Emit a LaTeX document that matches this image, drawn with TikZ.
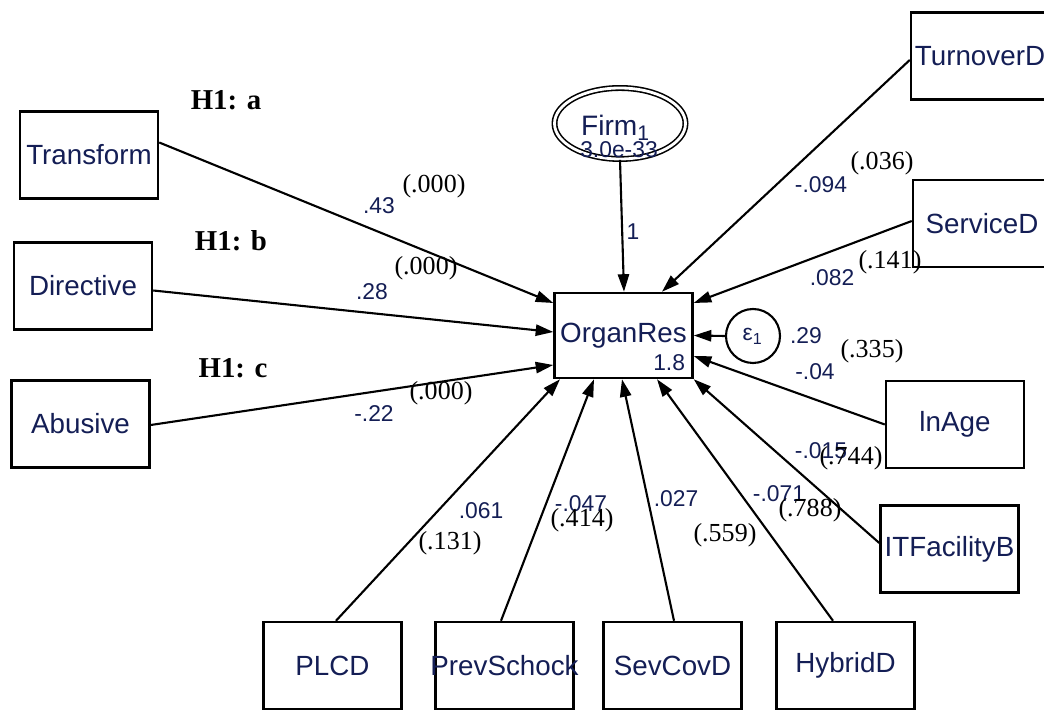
\documentclass[tikz,border=0pt]{standalone}
\usepackage{fontspec}
\setmainfont{Liberation Sans}
\newfontfamily\timesnum{Liberation Serif}
\usetikzlibrary{arrows.meta,shapes.geometric}
\definecolor{semblue}{RGB}{20,30,85}

\begin{document}
\begin{tikzpicture}[
	>={Triangle[length=5pt,width=3.2pt]},
	var/.style={draw,line width=0.7pt,minimum width=1.38cm,minimum height=0.87cm,inner sep=0pt,text=semblue,font=\fontsize{7.9}{9}\selectfont},
	coef/.style={inner sep=0pt,text=semblue,font=\fontsize{6.5}{7.5}\selectfont},
	pval/.style={inner sep=0pt,font=\timesnum\fontsize{7.4}{8.5}\selectfont},
	hyp/.style={inner sep=0pt,font=\timesnum\bfseries\fontsize{8.2}{9.5}\selectfont},
	link/.style={->,line width=0.6pt}]
				\clip (0,0) rectangle (10.44,7.10);
				% exogenous and endogenous variables
				\node[var] (transform) at (0.89,5.55) {Transform};
				\node[var] (directive) at (0.83,4.24) {Directive};
				\node[var] (abusive) at (0.805,2.86) {Abusive};
				\node[var,minimum height=0.85cm] (organres) at (6.235,3.745) {OrganRes};
				\node[coef,anchor=south east] (organcons) at ([xshift=-0.08cm,yshift=0.08cm]organres.south east) {1.8};
				\node[draw,ellipse,double,double distance=0.8pt,line width=0.45pt,minimum width=1.31cm,minimum height=0.71cm] (firm) at (6.20,5.865) {};
				\node[inner sep=0pt,text=semblue,font=\fontsize{8}{9}\selectfont] (firmname) at (6.16,5.82) {Firm\textsubscript{1}};
				\node[coef] (firmvar) at (6.19,5.60) {3.0e-33};
				\node[draw,circle,line width=0.6pt,minimum size=0.54cm,inner sep=0pt,text=semblue,font=\fontsize{6.5}{7.5}\selectfont] (eps) at (7.53,3.74) {ε\textsubscript{1}};
				\node[var] (turnover) at (9.80,6.54) {TurnoverD};
				\node[var] (service) at (9.82,4.865) {ServiceD};
				\node[var] (lnage) at (9.55,2.855) {lnAge};
				\node[var] (itfac) at (9.495,1.61) {ITFacilityB};
				\node[var] (plcd) at (3.325,0.445) {PLCD};
				\node[var] (prevshock) at (5.045,0.445) {\makebox[0pt]{PrevSchock}};
				\node[var] (sevcov) at (6.725,0.445) {SevCovD};
				\node[var] (hybrid) at (8.455,0.445) {HybridD};
				% paths
				\draw[link] ([yshift=0.125cm]transform.east) -- ([yshift=0.325cm]organres.west);
				\draw[link] ([yshift=-0.045cm]directive.east) -- ([yshift=0.035cm]organres.west);
				\draw[link] ([yshift=-0.01cm]abusive.east) -- ([yshift=-0.295cm]organres.west);
				\draw[link] (firm.south) -- ([xshift=0.005cm]organres.north);
				\draw[link] ([yshift=-0.04cm]turnover.west) -- ([xshift=0.385cm]organres.north);
				\draw[link] ([yshift=0.025cm]service.west) -- ([yshift=0.325cm]organres.east);
				\draw[link] (eps.west) -- (organres.east);
				\draw[link] (lnage.west) -- ([yshift=-0.205cm]organres.east);
				\draw[link] ([yshift=0.06cm]itfac.west) -- (organres.south east);
				\draw[link] ([xshift=0.035cm]plcd.north) -- ([xshift=-0.635cm]organres.south);
				\draw[link] ([xshift=-0.035cm]prevshock.north) -- ([xshift=-0.295cm]organres.south);
				\draw[link] ([xshift=0.015cm]sevcov.north) -- ([xshift=-0.015cm]organres.south);
				\draw[link] ([xshift=-0.125cm]hybrid.north) -- ([xshift=0.335cm]organres.south);
				% hypotheses
				\node[hyp] (ha) at (2.26,6.10) {H1: a};
				\node[hyp] (hb) at (2.31,4.69) {H1: b};
				\node[hyp] (hc) at (2.33,3.42) {H1: c};
				% coefficients and p-values
				\node[coef] (ctransform) at (3.79,5.04) {.43};
				\node[pval] (ptransform) at (4.34,5.24) {(.000)};
				\node[coef] (cdirective) at (3.72,4.18) {.28};
				\node[pval] (pdirective) at (4.26,4.42) {(.000)};
				\node[coef] (cabusive) at (3.74,2.96) {-.22};
				\node[pval] (pabusive) at (4.41,3.17) {(.000)};
				\node[coef] (cfirm) at (6.33,4.78) {1};
				\node[coef] (cturnover) at (8.21,5.25) {-.094};
				\node[pval] (pturnover) at (8.82,5.47) {(.036)};
				\node[coef] (cservice) at (8.32,4.32) {.082};
				\node[pval] (pservice) at (8.90,4.48) {(.141)};
				\node[coef] (ceps) at (8.06,3.74) {.29};
				\node[pval] (plnage) at (8.72,3.59) {(.335)};
				\node[coef] (clnage) at (8.15,3.38) {-.04};
				\node[coef] (citfac) at (8.21,2.59) {-.015};
				\node[pval] (pitfac) at (8.51,2.52) {(.744)};
				\node[coef] (cplcd) at (4.81,1.99) {.061};
				\node[pval] (pplcd) at (4.50,1.67) {(.131)};
				\node[coef] (cprevshock) at (5.81,2.06) {-.047};
				\node[pval] (pprevshock) at (5.82,1.90) {(.414)};
				\node[coef] (csevcov) at (6.76,2.11) {.027};
				\node[pval] (psevcov) at (7.25,1.75) {(.559)};
				\node[coef] (chybrid) at (7.79,2.16) {-.071};
				\node[pval] (phybrid) at (8.10,2.00) {(.788)};
			\end{tikzpicture}
\end{document}
